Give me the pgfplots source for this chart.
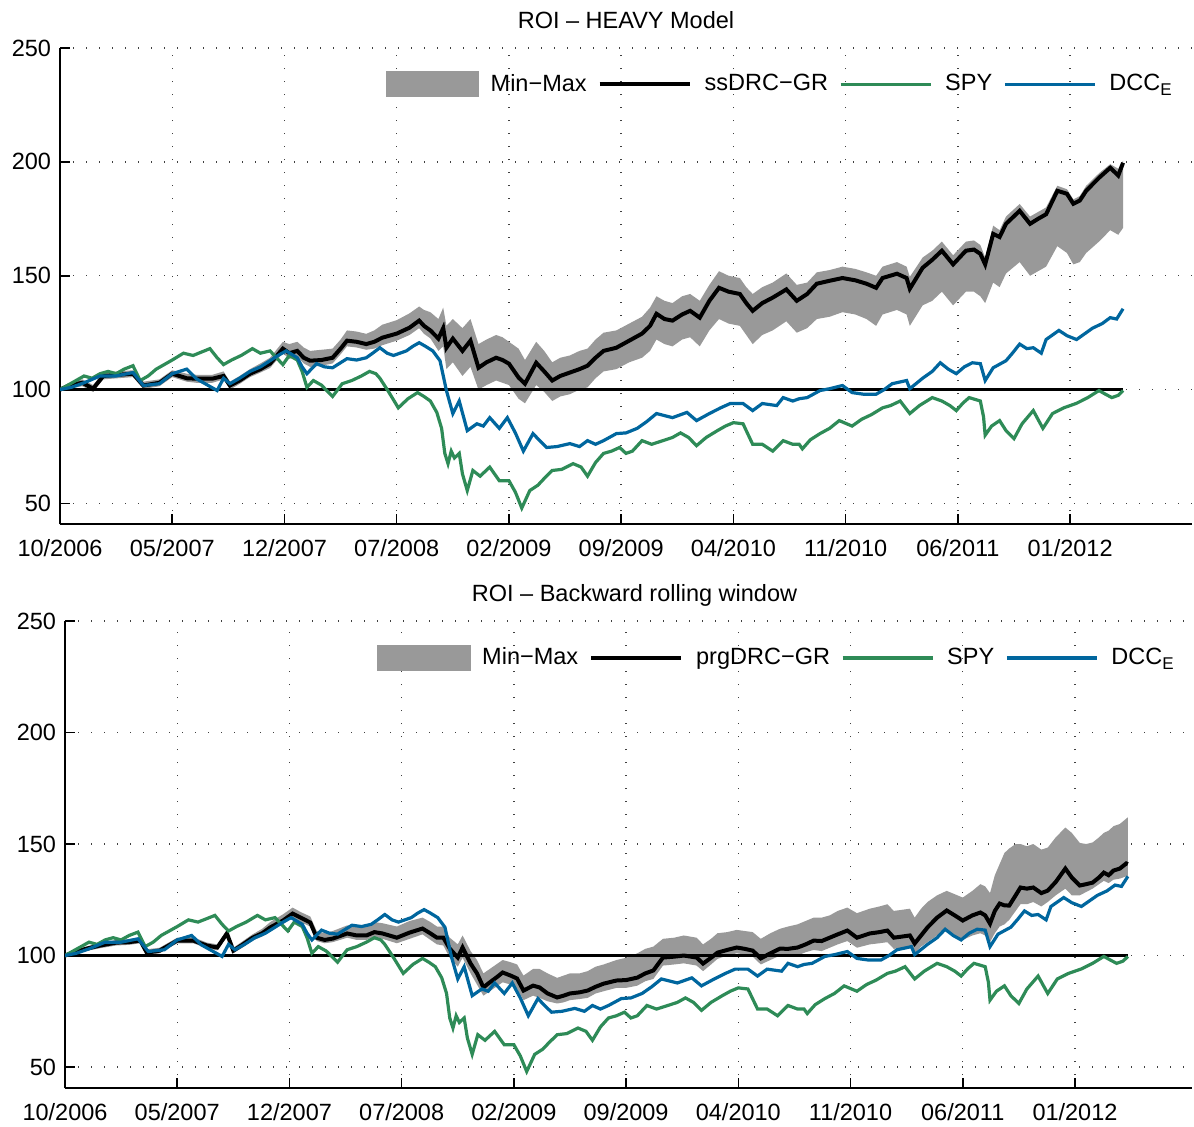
\documentclass[border=0pt]{standalone}
\usepackage{fontspec}
\setmainfont{Liberation Sans}
\usepackage{pgfplots}
\pgfplotsset{compat=1.18}
\usepackage{pgfplotstable}
\usepgfplotslibrary{fillbetween}
\definecolor{spyg}{RGB}{46,139,87}
\definecolor{dccb}{RGB}{0,102,158}
\definecolor{bandg}{RGB}{153,153,153}
\newcommand{\fs}{\fontsize{11.75bp}{14bp}\selectfont}

\pgfplotstableread{
m v
0 100
0.5 102
1.0 104
1.5 106
2.0 105
2.5 107
3.0 108
3.5 107
4.0 109
4.55 110.5
5.0 104
5.5 106
6.0 109
6.5 111
7.0 113
7.7 116
8.3 115
9.35 118
9.8 114
10.2 111
10.7 113
11.3 115
12.0 118
12.5 116
13.1 117
13.5 114
13.9 111
14.3 115
14.8 113
15.1 108
15.4 101
15.8 104
16.3 102
17.0 97
17.6 102.6
18.2 104
18.8 106
19.3 108
19.7 107
19.95 105
20.5 99
21.1 92
21.7 96
22.3 98.7
22.7 97
23.1 95
23.5 90
23.8 83
24.0 72
24.2 67.5
24.4 73
24.6 70
24.9 72
25.1 63
25.4 55.7
25.75 64.5
26.2 62
26.8 66
27.1 63
27.4 60
28.0 60
28.4 55
28.8 48
29.3 55.7
29.8 58
30.2 61
30.7 64.5
31.3 65
32.0 67.5
32.5 66
32.9 62
33.4 68
33.9 72
34.4 73
34.9 74.6
35.3 72
35.7 73
36.3 77.6
36.9 76
37.6 77.6
38.2 79
38.7 81
39.2 79
39.7 75.4
40.3 79
41.0 82
41.5 84
42.0 85.5
42.6 85
43.2 76
43.8 76
44.45 73
45.1 77.6
45.7 76
46.1 76
46.3 74
46.8 78
47.4 80.7
48.0 83
48.6 86.4
49.4 84
50.0 87
50.6 89
51.3 92
51.8 93
52.4 95
53.0 89.5
53.6 93
54.4 96.5
55.0 95
55.5 93
55.9 90.8
56.3 94
56.7 96.5
57.4 95
57.6 88
57.7 80
58.1 84
58.6 86.4
59.0 82
59.5 78.5
60.0 85
60.7 90.8
61.3 83
61.9 89.5
62.6 92
63.4 94
64.1 96.5
64.8 99.6
65.2 98
65.6 96.5
66.0 97.5
66.3 99.6
}\spy

\pgfplotstableread{
m v
0 100
0.7 101
1.5 103
2.5 106
3.5 106
4.55 107.5
5.2 101.8
6.2 102.6
7.0 107
7.9 109
8.5 104.8
9.2 102
9.8 99.6
10.2 105
10.6 102.6
11.2 105
11.85 108
12.5 110
13.1 112.7
13.6 115
14.1 117
14.8 114
15.1 110
15.4 107
16.0 111.4
16.5 110
17.0 109.6
17.9 113.6
18.5 113
19.1 114
19.5 116
19.95 118.4
20.4 116
20.8 115
21.6 117
22.0 119
22.4 120.6
22.8 119
23.25 117
23.7 112.7
24.1 99.6
24.5 89.5
24.9 95
25.4 82
26.0 85
26.4 84
26.8 87.7
27.4 83
27.9 87.7
28.4 81
28.9 73
29.5 80.7
30.0 77
30.35 74.6
31.0 75
31.8 76.3
32.4 75
32.9 77.6
33.4 76
33.9 77.6
34.7 80.7
35.3 81
36.0 83
36.6 86
37.2 89.5
38.2 87.7
39.1 90
39.7 86.4
40.5 89.5
41.2 92
41.8 93.9
42.6 93.9
43.2 90.8
43.8 93.9
44.7 93
45.1 96.5
45.7 95
46.1 96
46.6 96.5
47.4 99.6
48.0 100.4
48.8 101.8
49.4 98.7
50.1 98
50.9 98
51.4 100
51.9 102.6
52.8 104
53.0 100.4
53.8 105
54.4 108
54.9 111.8
55.4 109
55.9 107
56.4 110
56.9 111.8
57.4 111.4
57.7 104
58.2 109.6
59.0 112.7
59.4 116
59.85 120
60.3 118
60.7 118.4
61.2 116
61.5 122
62.3 126
62.8 123.7
63.4 122
63.9 124.5
64.4 127
65.0 129
65.5 131.6
65.9 131
66.3 135.5
}\dcc

\pgfplotstableread{
m b lo hi
0 100 99.5 100.5
0.6 102 100.5 103
1.4 103 101.5 104.5
2.06 100.4 99 102
2.7 106 104.5 107.5
3.6 106.5 105 108
4.55 107 105.5 108.5
5.2 101.8 100.3 103.5
6.2 103 101.5 104.5
7.0 107 105.5 108.5
7.9 105 103.5 107
8.5 104.8 103 106.5
9.5 104.8 103 106.5
10.2 106 104.5 108
10.6 101.8 100 103.5
11.2 104 102.5 106
11.85 107 105.5 109
12.5 109 107.5 111.5
13.1 111.4 109.5 114
13.9 118 116 121
14.3 116 113.5 120
14.8 117 114.5 121
15.2 114 111.5 118.5
15.6 112.7 110 117
16.3 113 110.5 117.5
17.0 114 111.5 118
17.5 118 115.5 122
17.9 121.5 119 126
18.5 121 118.5 125.5
19.1 120 117.5 124.5
19.6 121 118 126
20.1 122.8 119.5 128.5
21.0 124.6 121.5 130.5
21.8 127.2 124 133.5
22.4 130.3 127 136.5
22.7 128 124.5 135
23.1 126 122.5 134
23.6 122.4 117 131
23.9 127 119 136
24.1 118.4 109 128
24.5 122.4 112 131
25.1 117 106 127
25.6 121.5 110 131
26.1 109.6 100 120
26.6 112 102 122
27.2 114 104 124
27.6 113 103 123
28.0 111.4 102 121
28.6 105.3 96 118
29.0 102.6 94 113
29.7 111.8 102 121
30.2 108 99 117
30.7 104 95 112
31.2 106 97 114
31.8 107.5 98 115
32.4 109 100 117
32.9 110.5 101 118
33.4 114 105 122
33.9 117 108 125
34.7 118.4 109 126
35.5 121.5 112 129
36.3 124.6 114 132
36.8 128 117 136
37.2 133.3 122 141
37.7 131 120 139
38.2 130.3 119 138
38.8 133 122 141
39.3 134.6 123 142
39.9 131.6 119 139
40.5 139 126 146
41.1 144.7 131 152
41.7 143 129 150
42.4 142 128 149
42.8 138 124 145
43.2 134.6 120 142
43.8 138 124 145
44.45 140.4 126 147
45.3 144 130 151
45.95 139 125 146
46.6 142 127 147
47.2 146.5 131 151.5
48.0 147.8 132 152.5
48.8 149 134 154
49.6 148 133 153
50.3 146.5 131 151.5
50.9 144.7 128 150
51.3 149 133 154
52.2 150.9 135 156
52.8 149 133 154
53.0 144.3 128 149.5
53.8 153.5 137 158
54.4 157 139 161
55.0 161 143 165
55.7 155 137 159
56.5 161 143 165
57.0 161.5 143 165.5
57.4 159.6 141 163.5
57.7 155 138 158
58.2 168.4 147 172
58.6 167 145 170
59.0 172.8 151 176
59.85 178.5 156 181.5
60.5 172.8 150 176
61.0 175 152 178
61.5 177 154 180
62.2 187.3 163 189.5
62.8 186 160 188
63.2 181.6 155 183.5
63.6 183 156 185
64.0 187.3 160 189.5
64.8 193 165 195
65.5 197.4 170 199
66.0 194 168 197
66.3 199.6 171 200.5
}\topb

\pgfplotstableread{
m b lo hi
0 100 99.2 100.8
0.6 101.5 100.5 102.5
1.3 103 102 104
2.2 104.5 103.3 105.7
3.2 105.8 104.5 107
4.0 106 104.8 107.3
4.7 106.7 105.5 108
5.1 101.3 100 102.8
5.9 102.2 101 103.5
7.0 106.7 105.5 108
8.0 106.7 105.5 108.2
8.85 104.5 103.3 105.8
9.5 103.6 102.3 105
10.1 109.9 108.5 111.5
10.5 102.2 101 103.5
11.1 105 103.7 106.5
11.7 108 106.7 109.5
12.3 110 108.5 112
12.8 112.6 111 115
13.6 115.7 114 118.5
14.2 118.8 117 121.5
14.7 117 115 119.5
15.3 114.8 113 117.5
15.7 108 106.5 111
16.2 107 105.5 110
16.7 107.6 106 111
17.6 109.9 108 113.5
18.2 109 107 113
18.8 109 107 113.5
19.3 110.5 108.5 115
19.8 109.9 107.5 114.5
20.7 108 105.5 113
21.5 110.3 107.5 115.5
22.3 112.1 109.5 117
22.8 109.9 107 115
23.2 108 105 113
23.6 108 104.5 113
24.0 103.1 99 108
24.5 99.1 95 105
24.8 103.6 99 109
25.3 96.4 92 102
25.7 92 87 98
26.1 85.7 82 92
26.5 88 84 94
26.9 90.1 86 96
27.3 92.4 88 98
27.8 91 87 97
28.2 89.7 85 96
28.6 84.3 80 91
29.2 86.5 82 94
29.6 85.7 81 94
30.1 83 79.5 92
30.7 81.2 78.5 90
31.1 82 79 91
31.5 83 80 92
32.1 83.5 80.5 92
32.6 84.3 81 93
33.1 86 83 95
33.6 87.4 84 96
34.4 88.8 85.5 98
35.0 89 85.5 99
35.7 90.1 86.5 101
36.2 92 88.5 103
36.7 93.3 89.5 104
37.3 99.1 95.5 107.5
38.0 99.5 96 108
38.6 100 96.5 109
39.4 99.1 95.5 108
39.8 96.4 93 105
40.3 99 96 107.5
40.7 101.3 98.5 110
41.3 102.5 100 110.5
41.9 103.6 101 111.5
42.4 103 100.5 111
42.9 102.2 99.5 110.5
43.4 98.7 96 107.5
44.0 101 98 110
44.6 103.1 100 112
45.1 103 100 113
45.7 103.6 100 114
46.2 105 101.5 115.5
46.7 106.7 102.5 117
47.2 106.5 102 117
47.7 108 103.5 118
48.2 109.5 105 120
48.8 111.2 106.5 121.5
49.4 108 103.5 119
50.2 109.9 105 121
50.8 110.5 105.5 122
51.3 111.2 106 123
51.7 108 103 120
52.2 108.5 103.5 120.5
52.7 109 104 121
53.0 105.4 101 117
53.4 109 104 121
53.8 112.6 106 124
54.4 117 109 127
55.0 120.2 111 129
55.5 118 109 127.5
56.0 115.7 107 126
56.6 118 109 129
57.1 119.3 110 132
57.4 118 109 131
57.7 114.3 106 128
58.0 120 110 136
58.3 123.3 113 141
58.6 122.5 114 146
58.9 122.4 116 148
59.3 127 120 150
59.6 130.5 123 150
60.0 130 123 149
60.4 130.5 124 150
60.9 128 122 147.5
61.3 129.1 124 148.4
61.8 133 127 153
62.4 139 130 157.4
62.8 135 127 155
63.3 131.4 127 150.5
63.7 132 128.5 150
64.1 132.7 130 150.7
64.5 135 132 153
64.8 137.2 133.5 155
65.1 136 132.5 156
65.4 138.1 134 158
65.8 139 134.5 159
66.2 141.3 135.5 161.4
66.3 141 135 162
}\botb

\pgfplotsset{
  roi/.style={
    scale only axis,
    axis x line*=bottom, axis y line*=left,
    xmin=0, ymax=250,
    xtick={0,7,...,63},
    xticklabels={10/2006,05/2007,12/2007,07/2008,02/2009,09/2009,04/2010,11/2010,06/2011,01/2012},
    ytick={50,100,150,200,250},
    /pgf/number format/assume math mode=true,
    tick align=inside, major tick length=5bp,
    tick style={black, line width=0.75bp},
    axis line style={black, line width=0.75bp},
    grid=major,
    grid style={black!75, line width=0.7bp, dash pattern=on 0.7bp off 5.8bp},
    tick label style={font=\fs},
    x tick label style={yshift=-4bp},
    y tick label style={xshift=-1bp},
    every axis title shift=0pt,
    title style={font=\fs, at={(0.5,1)}, anchor=base, yshift=10bp},
    legend columns=-1,
    legend style={draw=none, fill=none, font=\fs, anchor=east,
      /tikz/every even column/.append style={column sep=3.5bp}},
    legend image code/.code={\draw[#1] (0bp,0bp) -- (45bp,0bp); \path (49.5bp,0bp);},
  },
  bandleg/.style={legend image code/.code={\fill[bandg] (0bp,-6.5bp) rectangle (46.8bp,6.5bp); \path (50.5bp,0bp);}},
}

\begin{document}
\begin{tikzpicture}[font=\fs]
\path (0,0) rectangle (597bp,-563.5bp);

\begin{axis}[roi,
  at={(30bp,-262bp)}, anchor=south west,
  width=566bp, height=238bp,
  xmax=70.6, ymin=41,
  title={ROI – HEAVY Model},
  legend style={at={(1,0.924)}, xshift=-5bp},
]
\addplot[name path=thi, draw=none, forget plot] table[x=m, y=hi] {\topb};
\addplot[name path=tlo, draw=none, forget plot] table[x=m, y=lo] {\topb};
\addplot[bandg, draw=none, bandleg] fill between[of=thi and tlo];
\addlegendentry{Min−Max}
\addplot[black, line width=1.6bp, forget plot] coordinates {(0,100) (66.3,100)};
\addplot[black, line width=2bp] table[x=m, y=b] {\topb};
\addlegendentry{ssDRC−GR}
\addplot[spyg, line width=1.6bp] table[x=m, y=v] {\spy};
\addlegendentry{SPY}
\addplot[dccb, line width=1.6bp] table[x=m, y=v] {\dcc};
\addlegendentry{DCC\raisebox{-2.5bp}{\fontsize{8.5bp}{9bp}\selectfont E}}
\end{axis}

\begin{axis}[roi,
  at={(32.5bp,-544bp)}, anchor=south west,
  width=563.5bp, height=233.5bp,
  xmax=70.3, ymin=40.6,
  title={ROI – Backward rolling window},
  title style={xshift=3bp},
  legend style={at={(1,0.921)}, xshift=-4bp},
]
\addplot[name path=bhi, draw=none, forget plot] table[x=m, y=hi] {\botb};
\addplot[name path=blo, draw=none, forget plot] table[x=m, y=lo] {\botb};
\addplot[bandg, draw=none, bandleg] fill between[of=bhi and blo];
\addlegendentry{Min−Max}
\addplot[black, line width=1.6bp, forget plot] coordinates {(0,100) (66.3,100)};
\addplot[black, line width=2bp] table[x=m, y=b] {\botb};
\addlegendentry{prgDRC−GR}
\addplot[spyg, line width=1.6bp] table[x=m, y=v] {\spy};
\addlegendentry{SPY}
\addplot[dccb, line width=1.6bp] table[x=m, y=v] {\dcc};
\addlegendentry{DCC\raisebox{-2.5bp}{\fontsize{8.5bp}{9bp}\selectfont E}}
\end{axis}
\end{tikzpicture}
\end{document}
